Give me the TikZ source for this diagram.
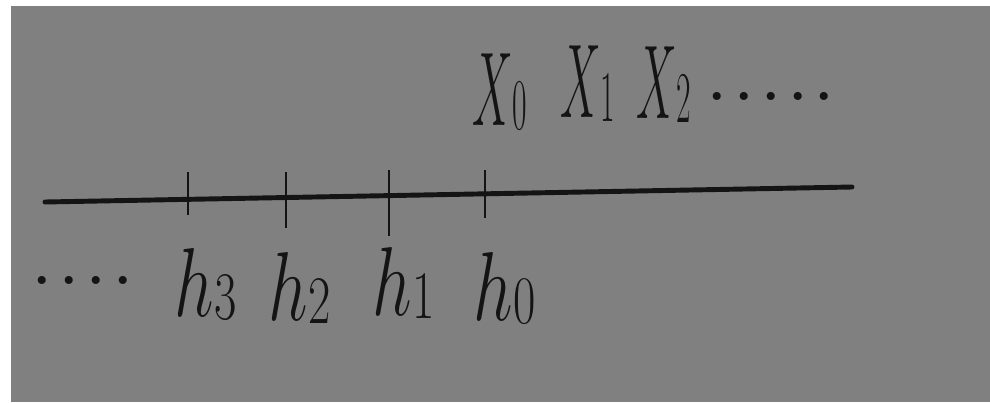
\documentclass[tikz,border=0pt]{standalone}
\usepackage{tikz}
\usetikzlibrary{positioning}
\definecolor{BoardGray}{HTML}{808080}
\definecolor{Ink}{HTML}{141414}
\newcommand{\lowsub}[1]{\lower1pt\hbox{$\scriptscriptstyle #1$}}

\begin{document}
\begin{tikzpicture}[
  x=0.025cm, y=-0.025cm,
  lblbase/.style={font=\Huge, text=Ink, inner sep=0pt, anchor=base west},
  lbl/.style={lblbase, xscale=2.0, yscale=2.8},
  biglbl/.style={lblbase, xscale=1.3, yscale=3.0},
  dotrow/.style={font=\Huge\bfseries, scale=1.6, text=Ink, inner sep=0pt, anchor=base west},
  axisline/.style={draw=Ink, line width=3.5pt, line cap=round},
  tickline/.style={draw=Ink, line width=1.8pt}
]
% paper
\fill[white] (0,0) rectangle (990,402);
\fill[BoardGray] (11,6) rectangle (990,402);

% axis
\coordinate (axl) at (45,202);
\coordinate (axr) at (852,187);
\draw[axisline] (axl) -- (axr);

% ticks
\coordinate (t3a) at (188,172); \coordinate (t3b) at (188,215);
\coordinate (t2a) at (286,172); \coordinate (t2b) at (286,228);
\coordinate (t1a) at (389,170); \coordinate (t1b) at (389,236);
\coordinate (t0a) at (485,170); \coordinate (t0b) at (485,218);
\draw[tickline] (t3a) -- (t3b);
\draw[tickline] (t2a) -- (t2b);
\draw[tickline] (t1a) -- (t1b);
\draw[tickline] (t0a) -- (t0b);

% lower labels
\node[lbl] (h3) at (174,316) {$h\lowsub{3}$};
\node[lbl] (h2) at (268,320) {$h\lowsub{2}$};
\node[lbl] (h1) at (372,315) {$h\lowsub{1}$};
\node[lbl] (h0) at (473,320) {$h\lowsub{0}$};
\node[dotrow] (dotsl) at (33,284) {.\,.\,.\,.};

% upper labels
\node[biglbl] (x0) at (472,125) {$X\lowsub{0}$};
\node[biglbl] (x1) at (560,117) {$X\lowsub{1}$};
\node[biglbl] (x2) at (636,118) {$X\lowsub{2}$};
\node[dotrow] (dotsr) at (708,100) {.\,.\,.\,.\,.};
\end{tikzpicture}
\end{document}
